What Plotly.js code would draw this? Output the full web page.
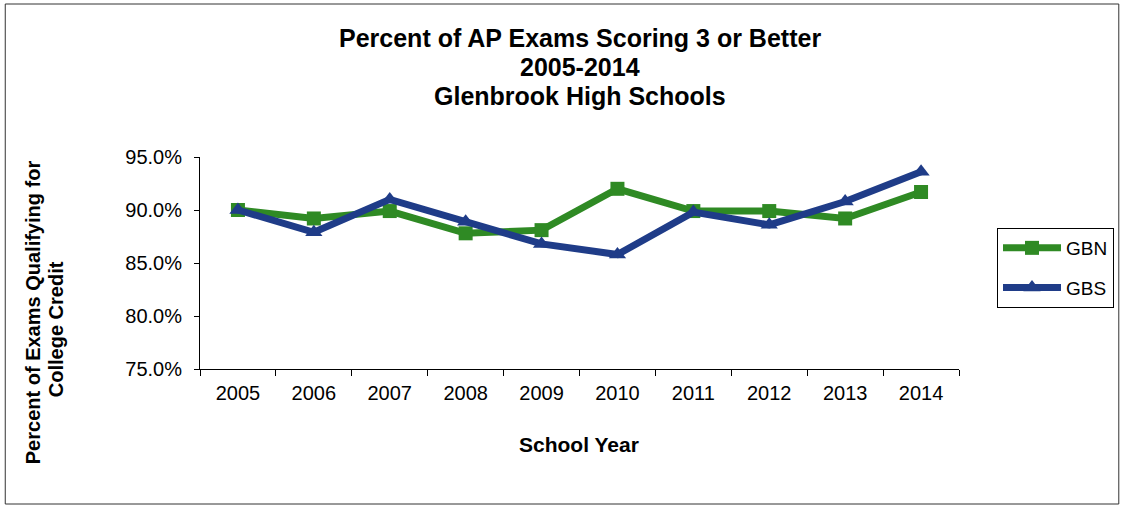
<!DOCTYPE html>
<html><head><meta charset="utf-8">
<script src="https://cdn.plot.ly/plotly-3.0.1.min.js"></script>
<style>html,body{margin:0;padding:0;background:#fff;}#chart{width:1125px;height:507px;}</style>
</head><body><div id="chart"></div>
<script>
const years = ['2005','2006','2007','2008','2009','2010','2011','2012','2013','2014'];
const gbn = [90.0, 89.2, 89.9, 87.8, 88.1, 92.0, 89.9, 89.9, 89.2, 91.7];
const gbs = [90.0, 87.9, 91.0, 88.9, 86.8, 85.8, 89.8, 88.6, 90.8, 93.6];
const titleLines = ['Percent of AP Exams Scoring 3 or Better', '2005-2014', 'Glenbrook High Schools'];
const yTitleLines = ['Percent of Exams Qualifying for', 'College Credit'];
const xTitle = 'School Year';
const green = '#2f8a24';
const blue = '#1f3c88';
const font = 'Liberation Sans, Arial, sans-serif';

const traces = [
  {x: years, y: gbn, name: 'GBN', type: 'scatter', mode: 'lines+markers', legendgroup: 'a',
   line: {color: green, width: 7}, marker: {symbol: 'square', size: 14, color: green}},
  {x: years, y: gbs, name: 'GBS', type: 'scatter', mode: 'lines+markers', legendgroup: 'b',
   line: {color: blue, width: 7}, marker: {symbol: 'triangle-up', size: 15, color: blue}}
];

// plot area: x 200..960, y 157..369
const L = 200, R = 960, T = 157, B = 369, W = 1125, H = 507;
const px = v => (v - L) / (R - L);
const py = v => (B - v) / (B - T);

const annotations = titleLines.map((t, i) => ({
  text: '<b>' + t + '</b>', xref: 'paper', yref: 'paper', x: px(581), y: py(38 + 29 * i),
  xanchor: 'center', yanchor: 'middle', showarrow: false, font: {size: 25, family: font, color: '#000'}
}));
const yPos = [[33, 312], [56, 329]];
yTitleLines.forEach((t, i) => annotations.push({
  text: '<b>' + t + '</b>', xref: 'paper', yref: 'paper',
  x: px(yPos[i][0]), y: py(yPos[i][1]), xanchor: 'center', yanchor: 'middle', textangle: -90, showarrow: false,
  font: {size: 20, family: font, color: '#000'}
}));
annotations.push({
  text: '<b>' + xTitle + '</b>', xref: 'paper', yref: 'paper', x: px(579), y: py(444),
  xanchor: 'center', yanchor: 'middle', showarrow: false, font: {size: 21, family: font, color: '#000'}
});

const layout = {
  width: W, height: H,
  margin: {l: L, r: W - R, t: T, b: H - B},
  paper_bgcolor: '#fff', plot_bgcolor: '#fff',
  font: {family: font, color: '#000'},
  xaxis: {type: 'category', range: [-0.5, 9.5], showline: true, linecolor: '#000', linewidth: 1, ticks: 'outside',
          tickson: 'boundaries', ticklen: 6, tickcolor: '#000', showgrid: false, zeroline: false,
          tickfont: {size: 20}, ticklabelstandoff: 6},
  yaxis: {range: [75, 95], dtick: 5, tickformat: '.1f', ticksuffix: '%', showline: true,
          linecolor: '#000', linewidth: 1, ticks: 'outside', ticklen: 5, tickcolor: '#000',
          showgrid: false, zeroline: false, tickfont: {size: 20}, ticklabelstandoff: 8},
  showlegend: true,
  legend: {x: px(997), xanchor: 'left', y: py(228), yanchor: 'top', bordercolor: '#000', borderwidth: 1,
           font: {size: 19}, traceorder: 'grouped', tracegroupgap: 12, bgcolor: '#fff', itemwidth: 58},
  annotations: annotations,
  shapes: [{type: 'rect', xref: 'paper', yref: 'paper', x0: px(5), x1: px(1120), y0: py(504), y1: py(4),
            line: {color: '#333', width: 1}}]
};
Plotly.newPlot('chart', traces, layout, {displayModeBar: false});
</script></body></html>
